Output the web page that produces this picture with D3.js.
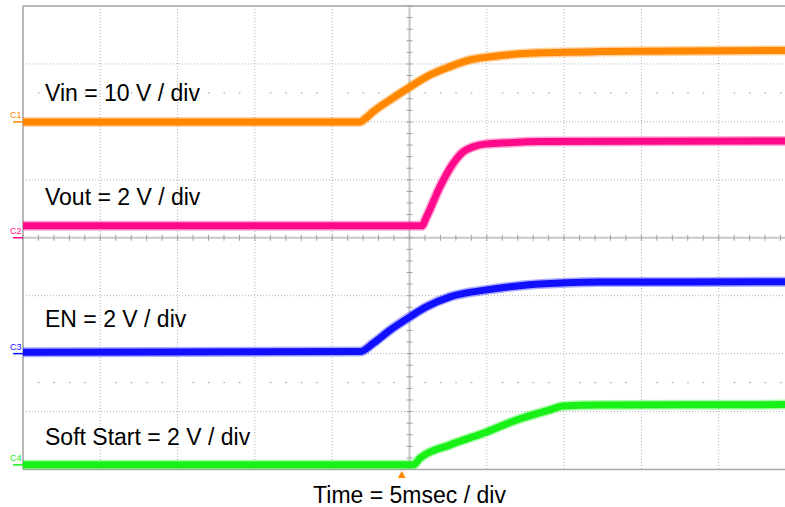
<!DOCTYPE html>
<html><head><meta charset="utf-8">
<script src="https://cdn.jsdelivr.net/npm/d3@7"></script>
<style>body{margin:0;background:#fff}svg{display:block}</style>
</head><body>
<script>
// ---- data (time in ms, values in volts) ----
const vinT  = [-25, -3.2, -2.85, -2.34, -1.26, 0, 1.33, 2.62, 3.91, 4.99, 6.29, 7.79, 12.3, 25];
const vinV  = [0, 0, 0.6, 1.78, 3.8, 5.99, 8.11, 9.54, 10.7, 11.17, 11.56, 11.86, 12.13, 12.34];
const voutT = [-25, 0.79, 1.11, 1.97, 2.83, 3.48, 4.13, 4.99, 6.29, 8.44, 25];
const voutV = [0.41, 0.41, 0.73, 1.76, 2.57, 2.97, 3.14, 3.24, 3.28, 3.32, 3.34];
const enT   = [-25, -3.2, -2.34, -1.26, 0.03, 1.11, 2.62, 4.99, 7.58, 10.17, 12.3, 25];
const enV   = [0.05, 0.07, 0.36, 0.81, 1.27, 1.62, 1.96, 2.2, 2.37, 2.45, 2.47, 2.48];
const ssT   = [-25, 0.25, 0.68, 2.62, 4.77, 6.93, 9.09, 9.95, 12.3, 25];
const ssV   = [0, 0, 0.23, 0.69, 1.09, 1.55, 1.9, 2.03, 2.07, 2.08];

const channelNames  = ["C1", "C2", "C3", "C4"];
const channelLabels = ["Vin = 10 V / div", "Vout = 2 V / div", "EN = 2 V / div", "Soft Start = 2 V / div"];
const voltsPerDiv   = [10, 2, 2, 2];
const groundDiv     = [2, 0, -2, -3.92];
const timeLabel = "Time = 5msec / div";
const timeDomain = [-25, 25];   // 5 ms/div, 10 divisions
const divDomain  = [-4, 4];     // 8 vertical divisions

// ---- layout ----
const W = 785, H = 507;
const L = 23, T = 6, B = 469.5, R = L + 10 * 77.3;
const colors = ["#ff8800", "#ff0a8a", "#1010ff", "#18f018"];

const svg = d3.select("body").append("svg").attr("width", W).attr("height", H);
svg.append("rect").attr("width", W).attr("height", H).attr("fill", "#fff");

const x = d3.scaleLinear().domain(timeDomain).range([L, R]);
const yDiv = d3.scaleLinear().domain(divDomain).range([B, T]);

const grid = svg.append("g");
// dotted grid
d3.range(-20, 25, 5).filter(t => t !== 0).forEach(t => {
  grid.append("line").attr("x1", x(t)).attr("x2", x(t)).attr("y1", T).attr("y2", B)
    .attr("stroke", "#b0b0b0").attr("stroke-width", 1).attr("stroke-dasharray", "1,2");
});
d3.range(-3, 4, 1).filter(d => d !== 0).forEach(d => {
  grid.append("line").attr("x1", L).attr("x2", W).attr("y1", yDiv(d)).attr("y2", yDiv(d))
    .attr("stroke", "#b0b0b0").attr("stroke-width", 1).attr("stroke-dasharray", "1,2");
});
// minor dot rows
[2.5, -2.5].forEach(d => {
  d3.range(-25, 25.01, 1).forEach(t => {
    if (t % 5 === 0) return;
    grid.append("rect").attr("x", x(t) - 0.5).attr("y", yDiv(d) - 0.5).attr("width", 1.5).attr("height", 1)
      .attr("fill", "#999");
  });
});
// center axes
grid.append("line").attr("x1", x(0)).attr("x2", x(0)).attr("y1", T).attr("y2", B)
  .attr("stroke", "#c8c8c8").attr("stroke-width", 2);
grid.append("line").attr("x1", L).attr("x2", W).attr("y1", yDiv(0)).attr("y2", yDiv(0))
  .attr("stroke", "#c8c8c8").attr("stroke-width", 2);
d3.range(-4, 4.01, 0.2).forEach(d => {
  grid.append("line").attr("x1", x(0) - 3).attr("x2", x(0) + 3).attr("y1", yDiv(d)).attr("y2", yDiv(d))
    .attr("stroke", "#a0a0a0").attr("stroke-width", 1);
});
d3.range(-25, 25.01, 1).forEach(t => {
  grid.append("line").attr("x1", x(t)).attr("x2", x(t)).attr("y1", yDiv(0) - 3).attr("y2", yDiv(0) + 3)
    .attr("stroke", "#a0a0a0").attr("stroke-width", 1);
});
// border
grid.append("line").attr("x1", L).attr("x2", W).attr("y1", T).attr("y2", T).attr("stroke", "#a0a0a0").attr("stroke-width", 1.5);
grid.append("line").attr("x1", L).attr("x2", W).attr("y1", B).attr("y2", B).attr("stroke", "#a8a8a8").attr("stroke-width", 1.5);
grid.append("line").attr("x1", L).attr("x2", L).attr("y1", T).attr("y2", B).attr("stroke", "#a0a0a0").attr("stroke-width", 1.5);

// labels
const labelY = [101, 205, 327, 445];
channelLabels.forEach((s, i) => {
  svg.append("text").attr("x", 45).attr("y", labelY[i]).text(s)
    .attr("font-family", "Liberation Sans, Arial, sans-serif").attr("font-size", 23).attr("fill", "#000");
});
svg.append("text").attr("x", x(0)).attr("y", 503).attr("text-anchor", "middle").text(timeLabel)
  .attr("font-family", "Liberation Sans, Arial, sans-serif").attr("font-size", 23).attr("fill", "#000");

// traces
const series = [[vinT, vinV], [voutT, voutV], [enT, enV], [ssT, ssV]];
svg.append("clipPath").attr("id", "plot").append("rect").attr("x", L).attr("y", T).attr("width", W - L).attr("height", B - T);
const tr = svg.append("g").attr("clip-path", "url(#plot)");
series.forEach(([ts, vs], i) => {
  const pts = ts.map((t, k) => [t, vs[k]]);
  const line = d3.line()
    .x(p => x(p[0]))
    .y(p => yDiv(groundDiv[i] + p[1] / voltsPerDiv[i]))
    .curve(d3.curveMonotoneX);
  tr.append("path").attr("d", line(pts)).attr("fill", "none").attr("stroke", colors[i])
    .attr("stroke-width", 10).attr("stroke-opacity", 0.35).attr("stroke-linejoin", "round");
  tr.append("path").attr("d", line(pts)).attr("fill", "none").attr("stroke", colors[i])
    .attr("stroke-width", 7).attr("stroke-linejoin", "round");
});

// channel markers
channelNames.forEach((c, i) => {
  const yy = yDiv(groundDiv[i]);
  svg.append("text").attr("x", 10).attr("y", yy - 4).text(c)
    .attr("font-family", "Liberation Sans, Arial, sans-serif").attr("font-size", 9).attr("fill", colors[i]);
  svg.append("line").attr("x1", 13).attr("x2", 23).attr("y1", yy).attr("y2", yy)
    .attr("stroke", colors[i]).attr("stroke-width", 1.5);
});

// trigger marker
const tx = x(-0.5);
svg.append("path").attr("d", `M${tx - 4},478 L${tx + 4},478 L${tx},471 Z`).attr("fill", "#ff8800");
</script>
</body></html>
